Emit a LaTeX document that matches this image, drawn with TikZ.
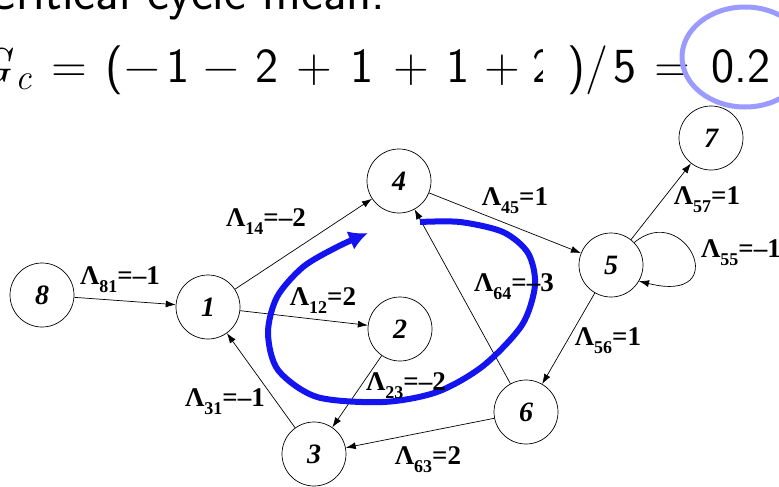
\documentclass[tikz,border=0pt]{standalone}
\usepackage{fontspec}
\newfontfamily\tms{Liberation Serif}
\usetikzlibrary{arrows.meta}
\definecolor{cycblue}{RGB}{20,20,240}
\definecolor{ringblue}{RGB}{155,155,255}
\newcommand\Lam[2]{Λ\raisebox{-0.3em}{\fontsize{18}{18}\selectfont #1}=#2}
\tikzset{
  eqtxt/.style={font=\fontsize{49}{49}\selectfont\sffamily, anchor=base, inner sep=0},
  vert/.style={circle, draw, line width=0.7pt, minimum size=64pt, inner sep=0,
               font=\fontsize{28}{28}\selectfont\tms\bfseries\itshape},
  edge/.style={draw, line width=0.7pt, -{Latex[length=10pt,width=7pt]}},
  lab/.style={font=\fontsize{27}{27}\selectfont\tms\bfseries, inner sep=0},
  cyc/.style={draw=cycblue, line width=6pt, -{Latex[length=19pt,width=20pt]}},
}
\begin{document}
\begin{tikzpicture}[x=1pt,y=-1pt]
\useasboundingbox (0,0) rectangle (779,487);
\clip (0,0) rectangle (779,487);
% slide text
\node[anchor=base west, font=\fontsize{52}{52}\selectfont\sffamily, inner sep=0] (title) at (-15,10) {Critical cycle mean:};
\node[anchor=base east, font=\fontsize{49}{49}\selectfont\itshape, inner sep=0] (eqG) at (12,82) {G};
\node[anchor=base, font=\fontsize{36}{36}\selectfont\itshape, inner sep=0] (eqc) at (24,89) {c};
\node[eqtxt] (e1) at (69,82) {=};
\node[eqtxt] (e2) at (114,82) {(};
\node[eqtxt] (e3) at (142,82) {−};
\node[eqtxt] (e4) at (178,82) {1};
\node[eqtxt] (e5) at (221,82) {−};
\node[eqtxt] (e6) at (267,82) {2};
\node[eqtxt] (e7) at (314,82) {+};
\node[eqtxt] (e8) at (362,82) {1};
\node[eqtxt] (e9) at (411,82) {+};
\node[eqtxt] (e10) at (458,82) {1};
\node[eqtxt] (e11) at (502,82) {+};
\node[eqtxt] (e12) at (544,82) {2};
\fill[white] (543,40) rectangle (561,95);
\node[eqtxt] (e13) at (576,82) {)};
\node[eqtxt] (e14) at (597,82) {/};
\node[eqtxt] (e15) at (625,82) {5};
\node[eqtxt] (e16) at (672,82) {=};
\node[eqtxt, anchor=base west] (e17) at (711,82) {0.2};
\draw[ringblue, line width=5pt] (745,57) ellipse [x radius=63, y radius=50];
% vertices
\node[vert] (n8) at (42,295) {8};
\node[vert] (n1) at (208,307) {1};
\node[vert] (n4) at (399,181) {4};
\node[vert] (n2) at (400,329) {2};
\node[vert] (n3) at (314,454) {3};
\node[vert] (n6) at (526,412) {6};
\node[vert] (n5) at (611,265) {5};
\node[vert] (n7) at (711,138) {7};
% edges
\draw[edge] (n8) -- (n1);
\draw[edge] (n1) -- (n4);
\draw[edge] (n1) -- (n2);
\draw[edge] (n2) -- (n3);
\draw[edge] (n3) -- (n1);
\draw[edge] (n6) -- (n3);
\draw[edge] (n6) -- (n4);
\draw[edge] (n4) -- (n5);
\draw[edge] (n5) -- (n7);
\draw[edge] (n5) -- (n6);
\draw[edge] (n5.44) .. controls (685,200) and (735,305) .. (n5.-30);
% critical cycle
\draw[cyc] plot[smooth] coordinates {(420,222) (460,222) (503,232) (528,253) (535,285) (522,325) (483,366) (437,392) (383,402) (317,397) (278,370) (268,333) (277,297) (303,267) (337,247) (368,233)};
% labels
\node[lab] (l81) at (120,280) {\Lam{81}{–1}};
\node[lab] (l14) at (266,222) {\Lam{14}{–2}};
\node[lab] (l12) at (323,301) {\Lam{12}{2}};
\node[lab] (l23) at (406,386) {\Lam{23}{–2}};
\node[lab] (l31) at (225,402) {\Lam{31}{–1}};
\node[lab] (l63) at (428,460) {\Lam{63}{2}};
\node[lab] (l64) at (514,287) {\Lam{64}{–3}};
\node[lab] (l45) at (515,201) {\Lam{45}{1}};
\node[lab] (l57) at (707,200) {\Lam{57}{1}};
\node[lab] (l55) at (741,253) {\Lam{55}{–1}};
\node[lab] (l56) at (608,341) {\Lam{56}{1}};
\end{tikzpicture}
\end{document}
